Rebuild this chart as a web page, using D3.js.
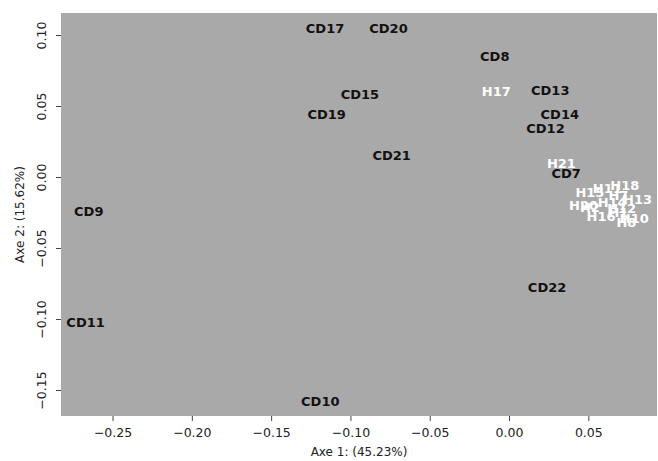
<!DOCTYPE html>
<html>
<head>
<meta charset="utf-8">
<style>
  body { margin: 0; background: #fff; }
  .tick text { font-family: "DejaVu Sans", sans-serif; font-size: 12.5px; fill: #222; }
  .lbl { font-family: "DejaVu Sans", sans-serif; font-weight: bold; font-size: 13px; text-anchor: middle; }
  .title { font-family: "DejaVu Sans", sans-serif; font-size: 12px; fill: #222; text-anchor: middle; }
</style>
</head>
<body>
<svg width="658" height="461"></svg>
<script src="https://cdn.jsdelivr.net/npm/d3@7"></script>
<script>
// sample labels and their coordinates on the first two axes
var cdNames = ["CD17", "CD20", "CD8", "CD13", "CD15", "CD19", "CD14", "CD12", "CD21", "CD7", "CD9", "CD11", "CD22", "CD10"];
var cdAxe1 = [-0.116, -0.076, -0.009, 0.026, -0.094, -0.115, 0.032, 0.023, -0.074, 0.036, -0.265, -0.267, 0.024, -0.119];
var cdAxe2 = [0.105, 0.105, 0.085, 0.061, 0.058, 0.044, 0.044, 0.0345, 0.0155, 0.0028, -0.024, -0.102, -0.0775, -0.158];

var hNames = ["H17", "H21", "H15", "H11", "H18", "H7", "H14", "H13", "H20", "H2", "H12", "H1", "H16", "H10", "H8"];
var hAxe1 = [-0.008, 0.033, 0.051, 0.062, 0.073, 0.069, 0.065, 0.081, 0.047, 0.051, 0.071, 0.069, 0.058, 0.079, 0.074];
var hAxe2 = [0.060, 0.0099, -0.011, -0.008, -0.0056, -0.013, -0.0176, -0.016, -0.020, -0.021, -0.022, -0.025, -0.028, -0.029, -0.032];

var xTicks = [-0.25, -0.20, -0.15, -0.10, -0.05, 0.00, 0.05];
var yTicks = [-0.15, -0.10, -0.05, 0.00, 0.05, 0.10];

var svg = d3.select("svg"),
    mLeft = 61, mRight = 657, mTop = 13, mBottom = 416;

var x = d3.scaleLinear().domain([-0.2825, 0.0933]).range([mLeft, mRight]);
var y = d3.scaleLinear().domain([-0.1683, 0.1155]).range([mBottom, mTop]);

svg.append("rect")
    .attr("x", mLeft).attr("y", mTop)
    .attr("width", mRight - mLeft).attr("height", mBottom - mTop)
    .attr("fill", "#a9a9a9");

var fmt = d3.format(".2f");

var xAxis = svg.append("g")
    .attr("transform", "translate(0," + mBottom + ")")
    .call(d3.axisBottom(x).tickValues(xTicks).tickFormat(fmt).tickSize(5).tickPadding(7));
xAxis.select(".domain").remove();
xAxis.selectAll("line").attr("stroke", "#444");

var yAxis = svg.append("g")
    .attr("transform", "translate(" + mLeft + ",0)")
    .call(d3.axisLeft(y).tickValues(yTicks).tickFormat(fmt).tickSize(5));
yAxis.select(".domain").remove();
yAxis.selectAll("line").attr("stroke", "#444");
yAxis.selectAll(".tick text")
    .attr("transform", "translate(-15,0) rotate(-90)")
    .attr("x", 0).attr("y", 0).attr("dy", "0")
    .attr("text-anchor", "middle");

svg.append("text").attr("class", "title")
    .attr("x", (mLeft + mRight) / 2).attr("y", 456)
    .text("Axe 1: (45.23%)");

svg.append("text").attr("class", "title")
    .attr("transform", "translate(24," + ((mTop + mBottom) / 2) + ") rotate(-90)")
    .text("Axe 2: (15.62%)");

var plot = svg.append("g");

plot.selectAll(".cd")
  .data(cdNames)
  .enter().append("text")
    .attr("class", "lbl cd")
    .attr("x", function(d, i) { return x(cdAxe1[i]); })
    .attr("y", function(d, i) { return y(cdAxe2[i]); })
    .attr("dy", "0.36em")
    .attr("fill", "#111")
    .text(function(d) { return d; });

plot.selectAll(".h")
  .data(hNames)
  .enter().append("text")
    .attr("class", "lbl h")
    .attr("x", function(d, i) { return x(hAxe1[i]); })
    .attr("y", function(d, i) { return y(hAxe2[i]); })
    .attr("dy", "0.36em")
    .attr("fill", "#fff")
    .text(function(d) { return d; });
</script>
</body>
</html>
